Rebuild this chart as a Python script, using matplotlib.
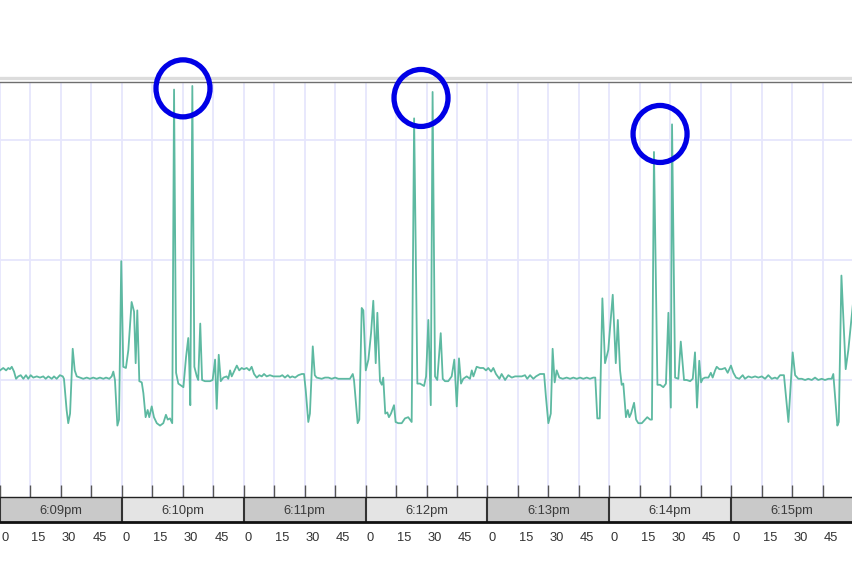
import matplotlib
matplotlib.use("Agg")
import matplotlib.pyplot as plt
import matplotlib.transforms as mtransforms
from matplotlib.patches import Ellipse
from matplotlib.lines import Line2D

# seconds after 6:09:00pm
t_sec = [0.0, 1.6, 3.0, 4.1, 4.9, 5.8, 6.9, 7.9, 9.0, 10.2, 11.5, 12.8, 13.9, 15.1, 16.4,
         18.1, 19.7, 21.3, 22.5, 23.8, 25.5, 26.6, 27.9, 29.5, 30.9, 31.5, 32.8, 33.6, 34.5,
         35.8, 36.8, 37.8, 39.4, 41.0, 42.7, 44.3, 45.9, 47.6, 49.2, 50.9, 52.2, 53.8, 55.0,
         55.8, 56.6, 57.8, 58.6, 59.7, 60.7, 62.0, 63.2, 64.8, 66.0, 66.8, 67.6, 68.6, 69.8,
         70.6, 71.7, 72.7, 73.5, 74.7, 75.8, 77.2, 78.8, 80.4, 81.7, 82.6, 83.7, 84.8, 85.7,
         86.7, 87.8, 89.5, 90.3, 91.6, 92.7, 93.2, 93.7, 94.7, 95.7, 96.9, 97.6, 98.6, 99.5,
         100.9, 103.4, 104.7, 105.9, 106.7, 107.7, 108.7, 110.0, 111.6, 112.4, 113.3, 114.1,
         115.2, 116.6, 117.8, 119.0, 120.1, 121.5, 122.8, 123.9, 125.1, 126.4, 127.7, 128.9,
         130.0, 131.3, 132.9, 134.6, 136.2, 137.9, 139.0, 140.3, 141.7, 142.8, 143.9, 145.3,
         146.9, 148.6, 149.7, 150.5, 151.8, 152.6, 154.0, 155.0, 155.9, 158.4, 160.0, 161.7,
         163.3, 165.0, 166.6, 168.3, 169.9, 172.3, 173.7, 174.3, 176.1, 176.9, 178.1, 178.9,
         180.1, 181.4, 182.7, 183.8, 185.0, 185.8, 187.1, 188.0, 188.7, 189.7, 190.7, 191.5,
         192.5, 194.0, 194.8, 196.1, 197.8, 199.4, 201.0, 202.7, 203.9, 205.5, 206.8, 208.8,
         209.8, 210.9, 212.1, 213.0, 214.2, 215.3, 217.0, 218.0, 219.1, 220.7, 222.4, 223.7,
         224.9, 226.0, 227.0, 228.1, 229.8, 231.4, 232.3, 233.1, 234.7, 236.4, 238.0, 239.3,
         240.4, 241.8, 242.9, 244.2, 245.9, 247.0, 248.7, 250.3, 252.0, 253.6, 255.7, 256.9,
         258.5, 259.6, 261.0, 262.6, 263.9, 265.9, 267.9, 268.8, 270.0, 271.2, 272.1, 273.1,
         274.1, 275.4, 277.1, 279.0, 280.7, 282.3, 284.0, 285.6, 287.2, 288.9, 290.5, 292.1,
         293.1, 294.1, 295.3, 296.6, 297.9, 299.5, 301.7, 303.2, 304.2, 305.3, 306.1, 306.9,
         307.8, 308.2, 309.1, 309.9, 310.7, 312.2, 313.2, 314.3, 316.0, 317.6, 318.7, 320.1,
         321.0, 322.0, 323.7, 325.0, 326.6, 327.9, 329.1, 330.3, 330.9, 332.4, 334.0, 335.2,
         336.8, 338.1, 339.8, 341.1, 342.2, 343.2, 344.3, 345.2, 346.0, 347.1, 348.8, 350.0,
         350.9, 352.1, 352.9, 354.2, 355.4, 357.0, 358.3, 359.9, 361.1, 362.4, 364.0, 365.7,
         366.8, 368.5, 370.1, 371.8, 373.4, 375.1, 376.7, 378.3, 380.0, 381.6, 382.7, 384.1,
         386.0, 388.2, 390.3, 391.5, 393.1, 394.8, 396.4, 398.0, 399.7, 401.3, 402.9, 404.6,
         406.2, 407.9, 409.5, 410.3, 412.3, 413.0, 414.3, 416.4, 417.7, 420.0]

level = [108, 110, 108, 110, 109, 111, 107, 101, 103, 104, 101, 104, 101, 104, 102,
         103, 102, 103, 101, 103, 101, 103, 101, 104, 103, 101, 75, 64, 72,
         126, 108, 103, 102, 101, 102, 101, 102, 101, 102, 101, 102, 101, 103,
         107, 100, 62, 67, 199, 111, 110, 125, 165, 157, 114, 158, 99, 98,
         89, 69, 75, 69, 78, 69, 64, 62, 64, 71, 67, 68, 64, 342,
         106, 97, 95, 94, 119, 135, 112, 79, 345, 111, 103, 100, 147, 100,
         99, 99, 100, 117, 76, 121, 99, 102, 103, 101, 108, 103,
         107, 112, 108, 110, 109, 110, 108, 111, 105, 102, 104, 103,
         105, 103, 104, 103, 103, 103, 104, 102, 104, 102, 103, 102,
         104, 105, 105, 92, 65, 72, 128, 104, 102, 101, 102, 102,
         101, 102, 101, 101, 101, 101, 105, 100, 64, 67, 160, 158,
         108, 117, 139, 166, 114, 156, 99, 96, 102, 72, 73, 69,
         72, 79, 65, 64, 64, 68, 69, 65, 318, 97, 97, 95,
         103, 150, 79, 340, 103, 100, 139, 101, 99, 99, 103, 117,
         78, 118, 97, 101, 103, 101, 108, 103, 111, 110, 110, 108,
         110, 107, 110, 105, 101, 105, 100, 104, 102, 103, 103, 103,
         104, 101, 104, 101, 103, 105, 105, 86, 64, 72, 126, 98,
         108, 102, 101, 102, 101, 102, 101, 102, 101, 102, 101, 102,
         102, 68, 68, 168, 114, 125, 171, 114, 150, 108, 96, 97,
         78, 69, 75, 69, 72, 81, 67, 64, 64, 67, 69, 67,
         67, 290, 96, 96, 94, 97, 156, 77, 313, 102, 101, 132,
         100, 100, 99, 101, 123, 77, 116, 98, 101, 102, 102, 106,
         102, 108, 111, 109, 109, 110, 106, 112, 106, 102, 101, 104,
         101, 103, 102, 103, 102, 103, 101, 104, 101, 102, 101, 104,
         104, 65, 123, 104, 101, 101, 100, 101, 100, 102, 100, 101,
         100, 101, 101, 105, 62, 65, 187, 109, 125, 164]

minute_labels = ["6:09pm", "6:10pm", "6:11pm", "6:12pm", "6:13pm", "6:14pm", "6:15pm"]
second_labels = ["0", "15", "30", "45"]

# hand drawn rings round the double peaks (seconds, level)
ring_t = [90.1, 207.3, 325.0]
ring_level = [343, 335, 305]

plt.rcParams['font.family'] = ['Liberation Sans', 'DejaVu Sans']

fig = plt.figure(figsize=(8.53, 5.78), dpi=100)
ax = fig.add_axes([0, 0.14014, 1, 0.71799])
tl = fig.add_axes([0, 0.09689, 1, 0.04325], sharex=ax)

ax.set_xlim(0, 420)
ax.set_ylim(2.5, 348.3)

ticks = [m * 60 + s for m in range(len(minute_labels)) for s in (0, 15, 30, 45)]
ax.set_xticks(ticks)
ax.set_yticks([100, 200, 300])
ax.grid(True, color='#e6e6fc', lw=1.3)
ax.set_axisbelow(True)
ax.tick_params(axis='x', direction='in', length=8.6, width=1, color='#555555',
               labelbottom=False)
ax.tick_params(axis='y', length=0, labelleft=False)
for side in ['left', 'right', 'bottom']:
    ax.spines[side].set_visible(False)
ax.spines['top'].set_color('#6e6e6e')
ax.spines['top'].set_linewidth(1)
ax.add_line(Line2D([0, 1], [1.0108, 1.0108], transform=ax.transAxes,
                   color='#dcdcdc', lw=2.4, clip_on=False))

ax.plot(t_sec, level, color='#5db9a1', lw=1.3, zorder=3)

rx = 27 * 420 / 853 * 2
ry = 28.5 * (348.3 - 2.5) / 415 * 2
for t, v in zip(ring_t, ring_level):
    ax.add_patch(Ellipse((t, v), rx, ry, fill=False, edgecolor='#0000e6', lw=3.8,
                         clip_on=False, zorder=5))

# minute strip
tl.set_ylim(0, 1)
for i, lab in enumerate(minute_labels):
    tl.axvspan(i * 60, (i + 1) * 60, color='#c9c9c9' if i % 2 == 0 else '#e4e4e4', lw=0)
    tl.axvline(i * 60, color='#333333', lw=1.5)
    tl.text(i * 60 + 30, 0.43, lab, ha='center', va='center', fontsize=9.3,
            color='#3a3a3a')
tl.set_yticks([])
tl.tick_params(axis='x', length=0, pad=7, labelsize=9.3, labelcolor='#333333')
tl.set_xticklabels(second_labels * len(minute_labels))
shift = mtransforms.ScaledTranslation(1 / 100, 0, fig.dpi_scale_trans)
for lbl in tl.get_xticklabels():
    lbl.set_horizontalalignment('left')
    lbl.set_transform(lbl.get_transform() + shift)
for side in ['left', 'right']:
    tl.spines[side].set_visible(False)
tl.spines['top'].set_color('#222222')
tl.spines['top'].set_linewidth(1)
tl.spines['bottom'].set_color('#111111')
tl.spines['bottom'].set_linewidth(2)

fig.savefig("out.png", dpi=100)
